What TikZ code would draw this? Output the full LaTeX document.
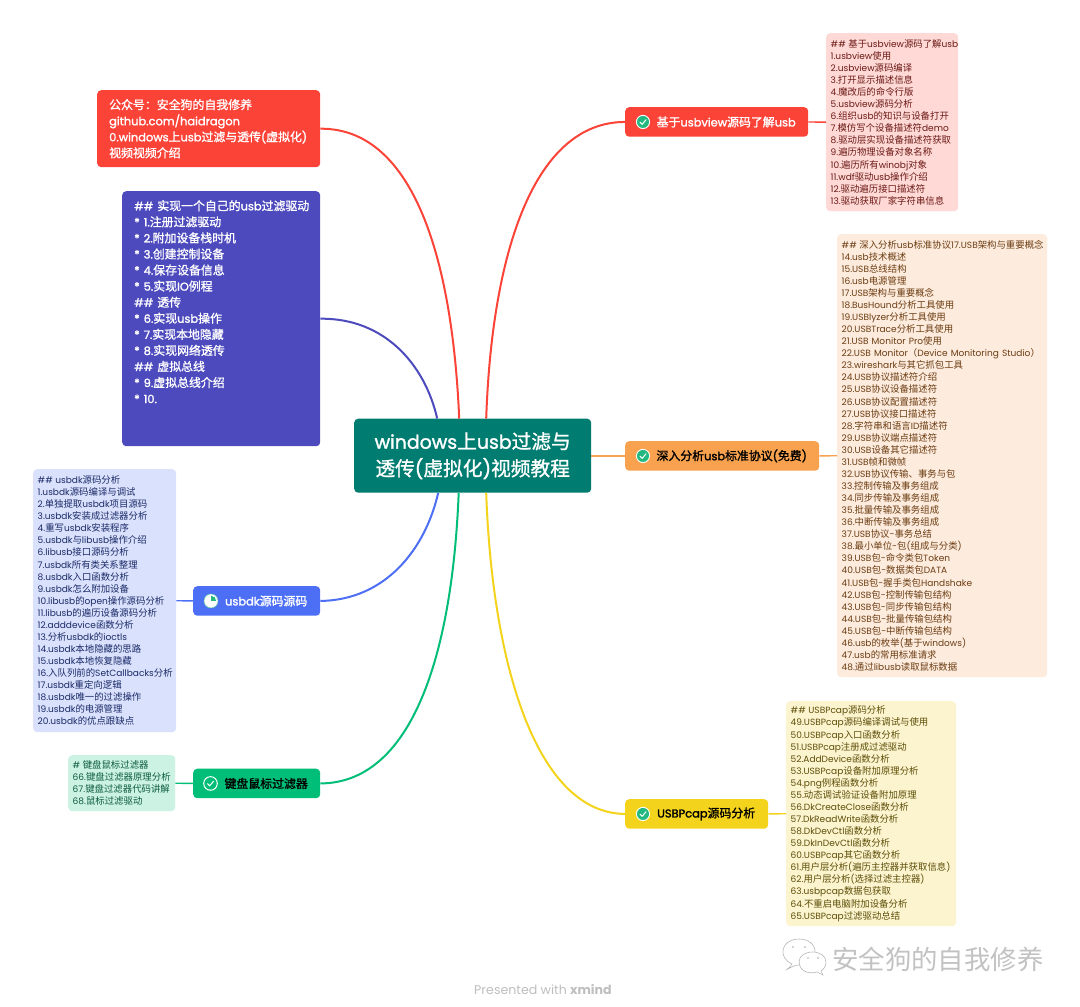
\documentclass[tikz,border=0pt]{standalone}
\usepackage{fontspec}
\usepackage{xcolor}
\usetikzlibrary{positioning}
\setmainfont{Poppins}
\newfontfamily\latinfont{Poppins}[Scale=0.96,BoldFont={Poppins},BoldFeatures={FakeBold=1.6}]
\newfontfamily\cjkfont{Noto Sans CJK SC}[BoldFont={Noto Sans CJK SC},BoldFeatures={FakeBold=1.2}]
% switch font between latin and chinese runs
\chardef\cjkclass=7
\newcount\cjkcode
\cjkcode="4E00
\loop\ifnum\cjkcode<"A000
  \XeTeXcharclass\cjkcode=\cjkclass
  \advance\cjkcode by 1
\repeat
\XeTeXcharclass"FF1A=\cjkclass
\XeTeXcharclass"FF08=\cjkclass
\XeTeXcharclass"FF09=\cjkclass
\XeTeXcharclass"3001=\cjkclass
\XeTeXinterchartokenstate=1
\XeTeXinterchartoks 0 \cjkclass={\cjkfont}
\XeTeXinterchartoks 4095 \cjkclass={\cjkfont}
\XeTeXinterchartoks \cjkclass 0={\latinfont}
\XeTeXinterchartoks 4095 0={\latinfont}
\definecolor{RootTeal}{HTML}{007C70}
\definecolor{TopicRed}{HTML}{FC4338}
\definecolor{TopicIndigo}{HTML}{4C4ABD}
\definecolor{TopicBlue}{HTML}{4D6FF6}
\definecolor{TopicGreen}{HTML}{00BE78}
\definecolor{TopicOrange}{HTML}{F8A14E}
\definecolor{TopicYellow}{HTML}{F4D31D}
\definecolor{NoteRed}{HTML}{FFD9D6}
\definecolor{NoteOrange}{HTML}{FDEBDD}
\definecolor{NoteYellow}{HTML}{FCF4CF}
\definecolor{NoteBlue}{HTML}{D9E1FD}
\definecolor{NoteGreen}{HTML}{CCF2E4}
\definecolor{InkRed}{HTML}{6B1A15}
\definecolor{InkOrange}{HTML}{6B3D12}
\definecolor{InkYellow}{HTML}{5C4E08}
\definecolor{InkBlue}{HTML}{1B2A66}
\definecolor{InkGreen}{HTML}{0D5C40}
\definecolor{TickGreen}{HTML}{22B87F}
\newcommand{\headgap}{\kern2.5pt\relax}
\tikzset{
  topicbox/.style={rounded corners=4pt,anchor=north west,inner sep=0pt,minimum height=29.5pt,
    font=\fontsize{11.9}{15}\selectfont\bfseries,execute at begin node=\hspace*{19pt}},
  notebox/.style={rounded corners=4pt,anchor=north west,inner xsep=4.5pt,inner ysep=0pt,align=left,
    font=\fontsize{9.4}{12.07}\selectfont},
  bignote/.style={rounded corners=4pt,anchor=north west,inner xsep=12pt,inner ysep=0pt,align=left,text=white,
    font=\fontsize{11.9}{16.07}\selectfont\bfseries},
  branch/.style={line width=2pt},
  twig/.style={line width=1.4pt},
  tick icon/.pic={
    \draw[fill=TickGreen,draw=white,line width=0.9pt] (0,0) circle (6.6);
    \draw[white,line width=1pt,line cap=round,line join=round] (-3,0.2) -- (-0.8,2.4) -- (3,-2.2);
  },
  ring icon/.pic={
    \draw[white,line width=1pt] (0,0) circle (6.8);
    \draw[white,line width=1pt,line cap=round,line join=round] (-3,0.2) -- (-0.8,2.4) -- (3,-2.2);
  },
  pie icon/.pic={
    \draw[fill=white,draw=TickGreen!70,line width=0.5pt] (0,0) circle (7);
    \fill[TickGreen] (0,0) -- (0,-5.2) arc[start angle=-90,end angle=0,radius=5.2] -- cycle;
  },
}
\begin{document}
\begin{tikzpicture}[x=1pt,y=-1pt]
\useasboundingbox[fill=white] (0,0) rectangle (1080,1007);

% centre
\node[rounded corners=4pt,fill=RootTeal,text=white,anchor=north west,minimum width=237pt,minimum height=74pt,
  inner sep=0pt,align=center,font=\fontsize{19.7}{27}\selectfont\bfseries] (root) at (354,418.5)
  {windows上usb过滤与\\透传(虚拟化)视频教程};
\coordinate (rootTopA) at ([xshift=-35.5pt]root.north);
\coordinate (rootTopB) at ([xshift=-13.5pt]root.north);
\coordinate (rootTopC) at ([xshift=13.5pt]root.north);
\coordinate (rootBotA) at ([xshift=-34.5pt]root.south);
\coordinate (rootBotB) at ([xshift=-14pt]root.south);
\coordinate (rootBotC) at ([xshift=13.5pt]root.south);

% left side
\node[bignote,fill=TopicRed,minimum width=223pt,minimum height=77pt,text width=199pt] (noteIntro) at (97,90) {
  公众号：安全狗的自我修养\\
  github.com/haidragon\\
  0.windows上usb过滤与透传(虚拟化)\\
  视频视频介绍};
\node[bignote,fill=TopicIndigo,minimum width=198pt,minimum height=255pt,text width=174pt] (noteDriver) at (122,191) {
  \#\#~实现一个自己的usb过滤驱动\\
  {*}~1.注册过滤驱动\\
  {*}~2.附加设备栈时机\\
  {*}~3.创建控制设备\\
  {*}~4.保存设备信息\\
  {*}~5.实现IO例程\\
  \#\#~透传\\
  {*}~6.实现usb操作\\
  {*}~7.实现本地隐藏\\
  {*}~8.实现网络透传\\
  \#\#~虚拟总线\\
  {*}~9.虚拟总线介绍\\
  {*}~10.\\[18pt]\mbox{}};
\node[topicbox,fill=TopicBlue,text=white,minimum width=127pt] (topicUsbdk) at (193,586) {usbdk源码源码};
\pic at ([xshift=18pt]topicUsbdk.west) {pie icon};
\node[notebox,fill=NoteBlue,text=InkBlue,minimum width=143pt,minimum height=263pt,text width=134pt] (noteUsbdk) at (33,469) {
  \#\#\headgap usbdk源码分析\\
  1.usbdk源码编译与调试\\
  2.单独提取usbdk项目源码\\
  3.usbdk安装成过滤器分析\\
  4.重写usbdk安装程序\\
  5.usbdk与libusb操作介绍\\
  6.libusb接口源码分析\\
  7.usbdk所有类关系整理\\
  8.usbdk入口函数分析\\
  9.usbdk怎么附加设备\\
  10.libusb的open操作源码分析\\
  11.libusb的遍历设备源码分析\\
  12.adddevice函数分析\\
  13.分析usbdk的ioctls\\
  14.usbdk本地隐藏的思路\\
  15.usbdk本地恢复隐藏\\
  16.入队列前的SetCallbacks分析\\
  17.usbdk重定向逻辑\\
  18.usbdk唯一的过滤操作\\
  19.usbdk的电源管理\\
  20.usbdk的优点跟缺点};
\node[topicbox,fill=TopicGreen,text=black,minimum width=127pt] (topicKeyboard) at (193,768.5) {键盘鼠标过滤器};
\pic at ([xshift=17.5pt]topicKeyboard.west) {ring icon};
\node[notebox,fill=NoteGreen,text=InkGreen,minimum width=107pt,minimum height=56pt,text width=98pt] (noteKeyboard) at (68,755) {
  \#\headgap 键盘鼠标过滤器\\
  66.键盘过滤器原理分析\\
  67.键盘过滤器代码讲解\\
  68.鼠标过滤驱动};

% right side
\node[topicbox,fill=TopicRed,text=white,minimum width=183pt] (topicUsbview) at (625,107) {基于usbview源码了解usb};
\pic at ([xshift=18pt]topicUsbview.west) {tick icon};
\node[notebox,fill=NoteRed,text=InkRed,minimum width=132pt,minimum height=178pt,text width=123pt] (noteUsbview) at (826,33) {
  \#\#\headgap 基于usbview源码了解usb\\
  1.usbview使用\\
  2.usbview源码编译\\
  3.打开显示描述信息\\
  4.魔改后的命令行版\\
  5.usbview源码分析\\
  6.组织usb的知识与设备打开\\
  7.模仿写个设备描述符demo\\
  8.驱动层实现设备描述符获取\\
  9.遍历物理设备对象名称\\
  10.遍历所有winobj对象\\
  11.wdf驱动usb操作介绍\\
  12.驱动遍历接口描述符\\
  13.驱动获取厂家字符串信息};
\node[topicbox,fill=TopicOrange,text=black,minimum width=194pt] (topicProtocol) at (625,441) {深入分析usb标准协议(免费)};
\pic at ([xshift=18pt]topicProtocol.west) {tick icon};
\node[notebox,fill=NoteOrange,text=InkOrange,minimum width=210pt,minimum height=443pt,text width=201pt] (noteProtocol) at (837,234) {
  \#\#\headgap 深入分析usb标准协议17.USB架构与重要概念\\
  14.usb技术概述\\
  15.USB总线结构\\
  16.usb电源管理\\
  17.USB架构与重要概念\\
  18.BusHound分析工具使用\\
  19.USBlyzer分析工具使用\\
  20.USBTrace分析工具使用\\
  21.USB~Monitor~Pro使用\\
  22.USB~Monitor（Device~Monitoring~Studio）\\
  23.wireshark与其它抓包工具\\
  24.USB协议描述符介绍\\
  25.USB协议设备描述符\\
  26.USB协议配置描述符\\
  27.USB协议接口描述符\\
  28.字符串和语言ID描述符\\
  29.USB协议端点描述符\\
  30.USB设备其它描述符\\
  31.USB帧和微帧\\
  32.USB协议传输、事务与包\\
  33.控制传输及事务组成\\
  34.同步传输及事务组成\\
  35.批量传输及事务组成\\
  36.中断传输及事务组成\\
  37.USB协议-事务总结\\
  38.最小单位-包(组成与分类)\\
  39.USB包-命令类包Token\\
  40.USB包-数据类包DATA\\
  41.USB包-握手类包Handshake\\
  42.USB包-控制传输包结构\\
  43.USB包-同步传输包结构\\
  44.USB包-批量传输包结构\\
  45.USB包-中断传输包结构\\
  46.usb的枚举(基于windows)\\
  47.usb的常用标准请求\\
  48.通过libusb读取鼠标数据};
\node[topicbox,fill=TopicYellow,text=black,minimum width=143pt] (topicPcap) at (625,799) {USBPcap源码分析};
\pic at ([xshift=18pt]topicPcap.west) {tick icon};
\node[notebox,fill=NoteYellow,text=InkYellow,minimum width=170pt,minimum height=225pt,text width=161pt] (notePcap) at (786,701) {
  \#\#\headgap USBPcap源码分析\\
  49.USBPcap源码编译调试与使用\\
  50.USBPcap入口函数分析\\
  51.USBPcap注册成过滤驱动\\
  52.AddDevice函数分析\\
  53.USBPcap设备附加原理分析\\
  54.png例程函数分析\\
  55.动态调试验证设备附加原理\\
  56.DkCreateClose函数分析\\
  57.DkReadWrite函数分析\\
  58.DkDevCtl函数分析\\
  59.DkInDevCtl函数分析\\
  60.USBPcap其它函数分析\\
  61.用户层分析(遍历主控器并获取信息)\\
  62.用户层分析(选择过滤主控器)\\
  63.usbpcap数据包获取\\
  64.不重启电脑附加设备分析\\
  65.USBPcap过滤驱动总结};

% connectors
\draw[branch,TopicRed] (rootTopB) .. controls (452,250) and (410,128) .. (noteIntro.east);
\draw[branch,TopicIndigo] (rootTopA) .. controls (425,365) and (385,318) .. (noteDriver.east);
\draw[branch,TopicBlue] (rootBotA) .. controls (425,550) and (385,600) .. (topicUsbdk.east);
\draw[branch,TopicGreen] (rootBotB) .. controls (452,660) and (410,783) .. (topicKeyboard.east);
\draw[branch,TopicRed] (rootTopC) .. controls (492,250) and (535,122) .. (topicUsbview.west);
\draw[branch,TopicOrange] (root.east |- topicProtocol.west) -- (topicProtocol.west);
\draw[branch,TopicYellow] (rootBotC) .. controls (492,660) and (535,813) .. (topicPcap.west);
\draw[twig,TopicRed] (topicUsbview.east) -- (noteUsbview.west);
\draw[twig,TopicOrange] (topicProtocol.east) -- (noteProtocol.west);
\draw[twig,TopicYellow] (topicPcap.east) -- (notePcap.west);
\draw[twig,TopicBlue] (topicUsbdk.west) -- (noteUsbdk.east);
\draw[twig,TopicGreen] (topicKeyboard.west) -- (noteKeyboard.east);

% footer
\node[anchor=west,inner sep=0pt,text=black!25,font=\fontsize{12.6}{15}\selectfont\let\latinfont\rmfamily] (footer) at (474,990) {Presented with \textbf{xmind}};
\node[anchor=west,inner sep=0pt,text=black!24,font=\fontsize{26.4}{30}\selectfont] (mark) at (832,959) {安全狗的自我修养};
\draw[black!28,fill=white,line width=0.6pt] (792,964) .. controls (784,960) and (783,955) .. (783,952)
  .. controls (783,944) and (790,939) .. (799,939) .. controls (808,939) and (815,944) .. (815,952)
  .. controls (815,960) and (808,965) .. (799,965) .. controls (796,965) and (793,966) .. (786,970)
  .. controls (789,968) and (791,966) .. (792,964) -- cycle;
\draw[black!28,fill=white,line width=0.6pt] (799,962) .. controls (799,956) and (805,952) .. (812.5,952)
  .. controls (820,952) and (826,956) .. (826,962) .. controls (826,966) and (824,969) .. (821,971)
  -- (823,975) -- (817,972) .. controls (806,975) and (799,969) .. (799,962) -- cycle;
\fill[black!22] (793,947) circle (1.2) (805,947) circle (1.2) (808,958) circle (1.2) (818,958) circle (1.2);
\end{tikzpicture}
\end{document}
